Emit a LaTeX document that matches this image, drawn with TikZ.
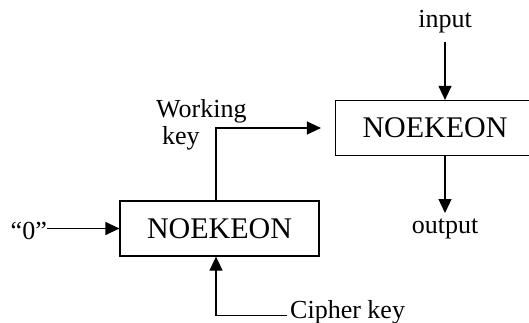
\documentclass[tikz,border=0pt]{standalone}
\usepackage{fontspec}
\setmainfont{Liberation Serif}
\usetikzlibrary{arrows.meta}
\begin{document}
\begin{tikzpicture}[x=1pt,y=-1pt,
  box/.style={draw,line width=1.2pt,minimum width=199pt,minimum height=55pt,inner sep=0pt,font=\fontsize{30}{30}\selectfont},
  lbl/.style={inner sep=0pt,font=\fontsize{26}{27}\selectfont},
  conn/.style={line width=1.2pt,-{Triangle[length=14pt,width=13pt]}},
  wire/.style={line width=1.2pt}]
\useasboundingbox (0,0) rectangle (529,323);
\node[box] (nR) at (435,128) {NOEKEON};
\node[box] (nL) at (219.5,228.5) {NOEKEON};
\node[lbl] (in) at (445,22) {input};
\node[lbl] (out) at (445,229) {output};
\node[lbl,anchor=east] (zero) at (47,231) {“0”};
\node[lbl,align=left,anchor=north west] (wk) at (156,99) {Working\\\hspace*{6pt}key};
\node[lbl,anchor=west] (ck) at (290,312) {Cipher key};
\coordinate (inc) at (445,42);
\coordinate (outc) at (445,213);
\coordinate (wkc) at (216,127);
\coordinate (ckc) at (287,315.5);
\draw[conn] (inc) -- (nR.north -| inc);
\draw[conn] (nR.south -| outc) -- (outc);
\draw[conn] (zero.east |- nL.west) -- (nL.west);
\draw[conn,shorten >=14pt] (nL.north -| wkc) |- (nR.west);
\draw[conn] (ckc) -| (nL.south -| wkc);
\end{tikzpicture}
\end{document}
